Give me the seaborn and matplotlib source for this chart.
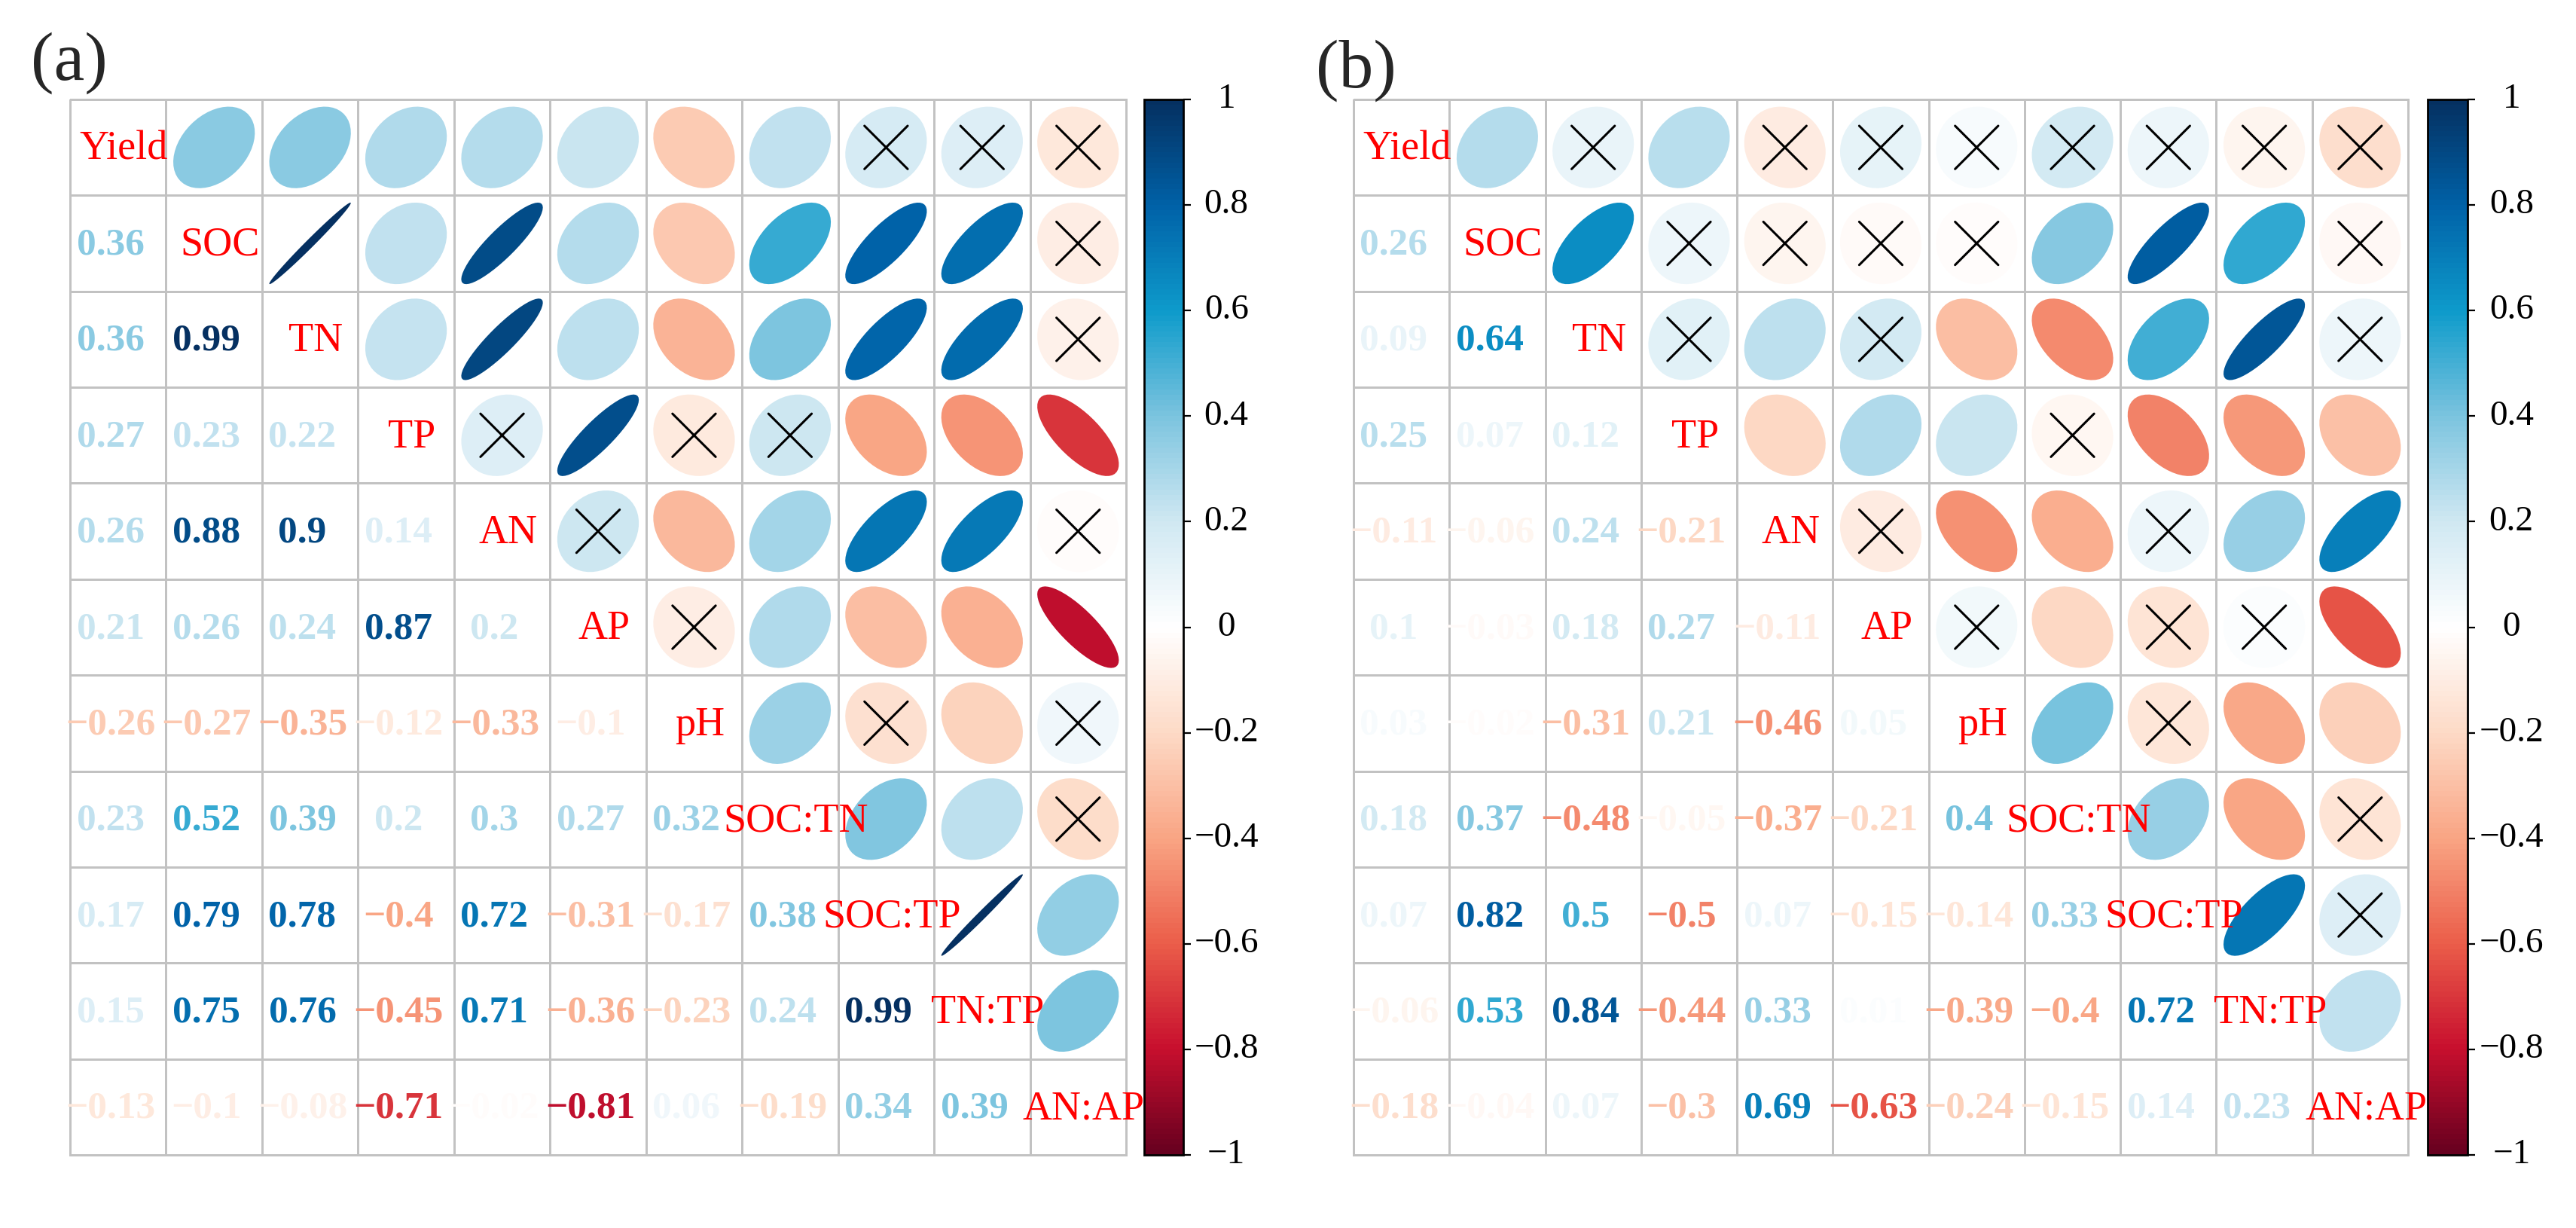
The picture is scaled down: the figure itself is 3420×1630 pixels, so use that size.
import numpy as np
import pandas as pd
import matplotlib
matplotlib.use('Agg')
import matplotlib.pyplot as plt
import seaborn as sns
from matplotlib.colors import ListedColormap, LinearSegmentedColormap, Normalize
from matplotlib.patches import Polygon
from matplotlib.cm import ScalarMappable
from matplotlib.transforms import blended_transform_factory

labels = ['Yield', 'SOC', 'TN', 'TP', 'AN', 'AP', 'pH', 'SOC:TN', 'SOC:TP', 'TN:TP', 'AN:AP']

# lower triangle of each correlation matrix, row by row (row 2 .. row 11)
low_a = [
    [0.36],
    [0.36, 0.99],
    [0.27, 0.23, 0.22],
    [0.26, 0.88, 0.9, 0.14],
    [0.21, 0.26, 0.24, 0.87, 0.2],
    [-0.26, -0.27, -0.35, -0.12, -0.33, -0.1],
    [0.23, 0.52, 0.39, 0.2, 0.3, 0.27, 0.32],
    [0.17, 0.79, 0.78, -0.4, 0.72, -0.31, -0.17, 0.38],
    [0.15, 0.75, 0.76, -0.45, 0.71, -0.36, -0.23, 0.24, 0.99],
    [-0.13, -0.1, -0.08, -0.71, -0.02, -0.81, 0.06, -0.19, 0.34, 0.39],
]
low_b = [
    [0.26],
    [0.09, 0.64],
    [0.25, 0.07, 0.12],
    [-0.11, -0.06, 0.24, -0.21],
    [0.1, -0.03, 0.18, 0.27, -0.11],
    [0.03, -0.02, -0.31, 0.21, -0.46, 0.05],
    [0.18, 0.37, -0.48, -0.05, -0.37, -0.21, 0.4],
    [0.07, 0.82, 0.5, -0.5, 0.07, -0.15, -0.14, 0.33],
    [-0.06, 0.53, 0.84, -0.44, 0.33, 0.01, -0.39, -0.4, 0.72],
    [-0.18, -0.04, 0.07, -0.3, 0.69, -0.63, -0.24, -0.15, 0.14, 0.23],
]
# |r| below this is marked non-significant (cross)
r_crit_a = 0.205
r_crit_b = 0.2

cbar_ticks = [1, 0.8, 0.6, 0.4, 0.2, 0, -0.2, -0.4, -0.6, -0.8, -1]

sns.set_theme(style='white')
plt.rcParams['font.family'] = ['Liberation Serif', 'DejaVu Serif']

cmap = LinearSegmentedColormap.from_list('corr', [
    (0.0, '#67001F'), (0.1, '#C8102E'), (0.2, '#EB5E4A'), (0.3, '#F9A584'),
    (0.4, '#FDDAC6'), (0.5, '#FFFFFF'), (0.6, '#D0E8F2'), (0.7, '#7CC4DF'),
    (0.8, '#0E9BCB'), (0.9, '#0062A8'), (1.0, '#053061')], N=200)
norm = Normalize(-1, 1)


def full_matrix(low):
    n = len(labels)
    m = np.eye(n)
    for i, row in enumerate(low):
        for j, v in enumerate(row):
            m[i + 1, j] = v
            m[j, i + 1] = v
    return m


def fmt(v):
    s = f'{v:.2f}'.rstrip('0').rstrip('.')
    return s.replace('-', '\u2212')


def panel(ax, cax, mat, r_crit):
    n = len(labels)
    df = pd.DataFrame(mat, index=labels, columns=labels)
    sns.heatmap(df, ax=ax, cmap=ListedColormap(['white']), cbar=False,
                linewidths=2.0, linecolor='#c2c2c2',
                xticklabels=False, yticklabels=False)
    for coll in ax.collections:
        coll.set_clip_on(False)
    k = np.linspace(0, 2 * np.pi, 51)
    for i in range(n):
        for j in range(n):
            r = mat[i, j]
            if j > i:
                a = np.arccos(r) / 2
                ex = 0.85 * np.cos(k + a) / 2
                ey = 0.85 * np.cos(k - a) / 2
                ax.add_patch(Polygon(np.column_stack([j + 0.5 + ex, i + 0.5 - ey]),
                                     closed=True, fc=cmap(norm(r)), ec='none'))
                if abs(r) < r_crit:
                    d = 0.225
                    ax.plot([j + 0.5 - d, j + 0.5 + d], [i + 0.5 - d, i + 0.5 + d],
                            color='black', lw=2.2)
                    ax.plot([j + 0.5 - d, j + 0.5 + d], [i + 0.5 + d, i + 0.5 - d],
                            color='black', lw=2.2)
            elif j < i:
                ax.text(j + 0.42, i + 0.52, fmt(r), color=cmap(norm(r)),
                        ha='center', va='center', fontsize=37, fontweight='bold')
            else:
                ax.text(i + 0.56, i + 0.52, labels[i], color='red',
                        ha='center', va='center', fontsize=39)

    cb = plt.colorbar(ScalarMappable(norm=norm, cmap=cmap), cax=cax, ticks=cbar_ticks)
    cb.outline.set_linewidth(2.0)
    cb.outline.set_edgecolor('black')
    cax.tick_params(axis='y', length=7, width=1.6, right=True, left=False,
                    labelright=False, labelleft=False, color='black')
    tr = blended_transform_factory(cax.transAxes, cax.transData)
    for t in cbar_ticks:
        cax.text(2.1, t, fmt(t), transform=tr, ha='center', va='center',
                 fontsize=34, color='black')


fig = plt.figure(figsize=(34.2, 16.3), dpi=100)
W, H = 3420, 1630
top, bottom = 132, 1533

ax_a = fig.add_axes([93 / W, 1 - bottom / H, 1402 / W, (bottom - top) / H])
cax_a = fig.add_axes([1519 / W, 1 - bottom / H, 52 / W, (bottom - top) / H])
ax_b = fig.add_axes([1797 / W, 1 - bottom / H, 1400 / W, (bottom - top) / H])
cax_b = fig.add_axes([3223 / W, 1 - bottom / H, 53 / W, (bottom - top) / H])

panel(ax_a, cax_a, full_matrix(low_a), r_crit_a)
panel(ax_b, cax_b, full_matrix(low_b), r_crit_b)

fig.text(92 / W, 1 - 84 / H, '(a)', ha='center', va='center', fontsize=66)
fig.text(1800 / W, 1 - 94 / H, '(b)', ha='center', va='center', fontsize=66)

fig.savefig('out.png', dpi=100, facecolor='white')
